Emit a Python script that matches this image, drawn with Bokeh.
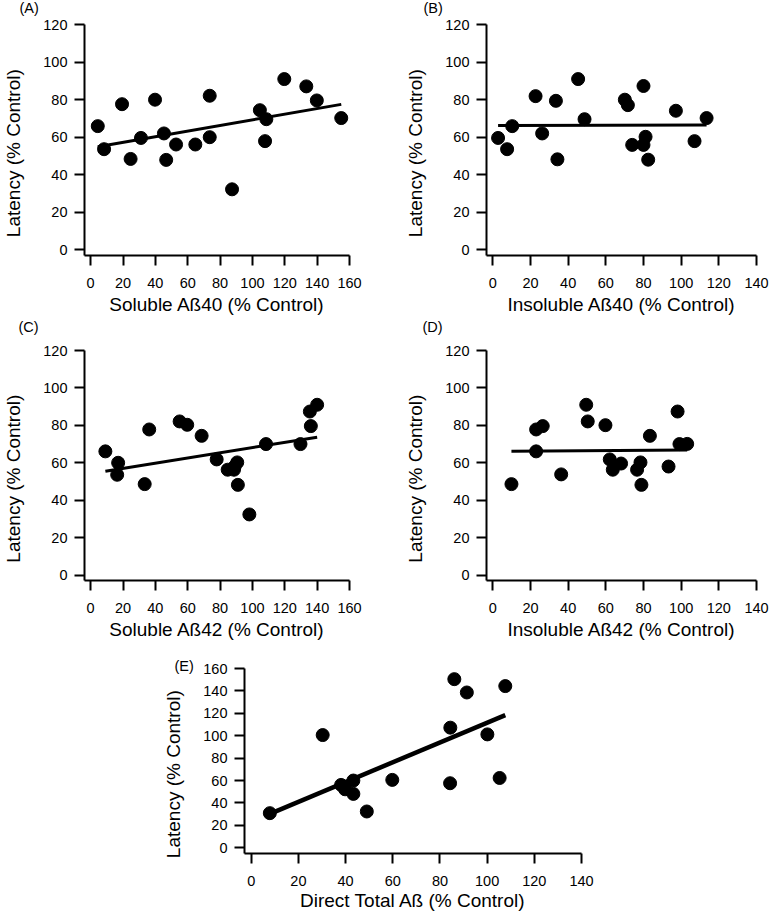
from bokeh.plotting import figure
from bokeh.layouts import column, row
from bokeh.models import Range1d, FixedTicker, Title, Spacer
from bokeh.embed import file_html
from bokeh.resources import INLINE

FONT = "Liberation Sans"

# ---------------- data ----------------
a_x = [4.4, 8.3, 19.4, 24.7, 31.1, 39.8, 45.3, 46.7, 52.8, 64.7, 73.6, 73.6, 87.4,
       104.6, 108.6, 107.8, 119.7, 133.3, 139.8, 154.9]
a_y = [66.0, 53.7, 77.7, 48.5, 59.7, 80.1, 62.1, 48.0, 56.2, 56.2, 60.1, 82.2, 32.3,
       74.5, 69.7, 58.0, 91.1, 87.2, 79.7, 70.3]
a_fit_x = [4.4, 154.9]
a_fit_y = [55.0, 77.6]

b_x = [2.8, 7.6, 10.3, 22.7, 26.2, 33.5, 34.3, 45.3, 48.7, 70.1, 71.7, 74.0, 80.0,
       81.1, 80.0, 82.5, 97.2, 107.1, 113.5]
b_y = [59.7, 53.7, 66.0, 82.0, 62.1, 79.5, 48.3, 91.1, 69.7, 80.1, 77.2, 56.0, 87.4,
       60.3, 56.0, 48.1, 74.2, 58.0, 70.3]
b_fit_x = [2.8, 113.5]
b_fit_y = [66.3, 66.6]

c_x = [9.1, 17.0, 16.4, 36.2, 33.4, 55.0, 59.7, 68.6, 77.9, 84.7, 88.6, 89.0, 90.6,
       91.0, 98.1, 108.4, 129.7, 136.1, 135.5, 140.0]
c_y = [66.1, 60.0, 53.6, 77.8, 48.6, 82.1, 80.3, 74.4, 61.8, 56.3, 56.3, 58.0, 60.2,
       48.2, 32.4, 70.0, 70.0, 79.6, 87.4, 91.0]
c_fit_x = [9.1, 140.0]
c_fit_y = [55.5, 73.7]

d_x = [9.9, 23.0, 26.5, 23.0, 36.3, 49.6, 50.4, 59.8, 62.1, 63.7, 68.1, 76.6, 78.4,
       78.9, 83.4, 93.3, 98.1, 99.1, 103.2]
d_y = [48.6, 77.8, 79.6, 66.1, 53.8, 91.0, 82.1, 80.1, 61.8, 56.3, 59.6, 56.3, 60.2,
       48.2, 74.4, 58.0, 87.4, 70.0, 70.1]
d_fit_x = [9.9, 103.2]
d_fit_y = [66.1, 66.8]

e_x = [7.9, 30.3, 38.1, 39.8, 43.3, 43.3, 49.0, 59.8, 84.3, 84.4, 86.1, 91.4, 100.1,
       105.3, 107.7]
e_y = [30.9, 100.6, 56.1, 52.2, 60.0, 48.1, 32.4, 60.6, 57.6, 107.2, 150.5, 138.6,
       101.2, 62.3, 144.3]
e_fit_x = [7.9, 107.7]
e_fit_y = [30.3, 118.4]

ticks_160 = [0, 20, 40, 60, 80, 100, 120, 140, 160]
ticks_140 = [0, 20, 40, 60, 80, 100, 120, 140]
ticks_120 = [0, 20, 40, 60, 80, 100, 120]

y_label = "Latency (% Control)" + "\u00a0" * 5


def make_panel(xs, ys, fx, fy, xlabel, xr, yr, xticks, yticks, width, height,
               bl, bt, bb, br, lw=3, msize=13, top_shift=0, xlab_standoff=3):
    p = figure(width=width, height=height, output_backend="svg",
               toolbar_location=None, x_range=Range1d(*xr), y_range=Range1d(*yr),
               min_border_left=bl, min_border_top=bt, min_border_bottom=bb,
               min_border_right=br, margin=(-top_shift, 0, 0, 0))
    p.outline_line_color = None
    p.xgrid.visible = False
    p.ygrid.visible = False
    p.background_fill_color = "white"
    p.border_fill_color = None
    p.border_fill_alpha = 0
    p.line(fx, fy, line_color="black", line_width=lw)
    p.scatter(xs, ys, size=msize, fill_color="black", line_color="black")
    for ax in (p.xaxis[0], p.yaxis[0]):
        ax.axis_line_width = 2
        ax.axis_line_color = "black"
        ax.major_tick_line_width = 2
        ax.major_tick_line_color = "black"
        ax.major_tick_out = 10
        ax.major_tick_in = 0
        ax.minor_tick_out = 0
        ax.minor_tick_in = 0
        ax.major_label_text_font = FONT
        ax.major_label_text_font_size = "14.5px"
        ax.major_label_text_color = "black"
        ax.axis_label_text_font = FONT
        ax.axis_label_text_font_size = "19px"
        ax.axis_label_text_font_style = "normal"
        ax.axis_label_text_color = "black"
    p.xaxis[0].major_label_standoff = 12
    p.yaxis[0].major_label_standoff = 7
    p.xaxis[0].ticker = FixedTicker(ticks=xticks)
    p.yaxis[0].ticker = FixedTicker(ticks=yticks)
    p.xaxis[0].axis_label = xlabel
    p.yaxis[0].axis_label = y_label
    p.xaxis[0].axis_label_standoff = xlab_standoff
    p.yaxis[0].axis_label_standoff = 16
    return p


def letter(p, text, offset, standoff):
    t = Title(text=text, align="left", offset=offset, standoff=0,
              text_font=FONT, text_font_size="14.5px",
              text_font_style="normal", text_color="black")
    try:
        t.standoff = standoff
    except Exception:
        t.standoff = 0
    p.title = t


# Row 1 (A, B)
pA = make_panel(a_x, a_y, a_fit_x, a_fit_y, "Soluble Aß40 (% Control)",
                (-3.8, 160), (-3.0, 120.2), ticks_160, ticks_120,
                385, 337, 79, 40, 66, 36, top_shift=16)
letter(pA, "(A)", -65, 17)
pB = make_panel(b_x, b_y, b_fit_x, b_fit_y, "Insoluble Aß40 (% Control)",
                (-3.35, 140), (-3.0, 120.2), ticks_140, ticks_120,
                384, 337, 101, 40, 66, 13, top_shift=16)
letter(pB, "(B)", -63, 17)

# Row 2 (C, D)
pC = make_panel(c_x, c_y, c_fit_x, c_fit_y, "Soluble Aß42 (% Control)",
                (-3.8, 160), (-2.9, 120), ticks_160, ticks_120,
                385, 350, 79, 54, 66, 36, top_shift=25)
letter(pC, "(C)", -66, 31)
pD = make_panel(d_x, d_y, d_fit_x, d_fit_y, "Insoluble Aß42 (% Control)",
                (-3.35, 140), (-2.9, 120), ticks_140, ticks_120,
                384, 350, 101, 54, 66, 13, top_shift=25)
letter(pD, "(D)", -64, 31)

# Row 3 (E)
pE = make_panel(e_x, e_y, e_fit_x, e_fit_y, "Direct Total Aß (% Control)",
                (-2.84, 140), (-5.1, 160), ticks_140, [0, 20, 40, 60, 80, 100, 120, 140, 160],
                440, 268, 83, 22, 61, 19, lw=4.5, xlab_standoff=1)
letter(pE, "(E)", -70, -10)

layout = column(row(pA, pB), row(pC, pD), row(Spacer(width=160, height=268), pE))

open("out.html", "w").write(file_html(layout, INLINE))
